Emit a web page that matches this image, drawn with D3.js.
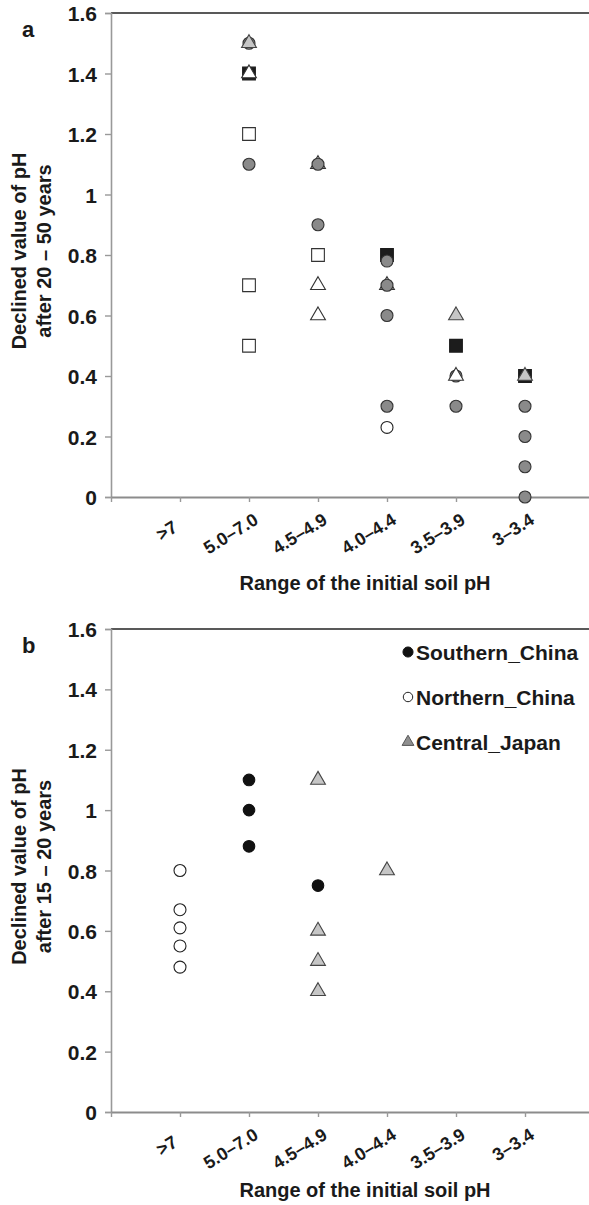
<!DOCTYPE html>
<html>
<head>
<meta charset="utf-8">
<script src="https://cdn.jsdelivr.net/npm/d3@7/dist/d3.min.js"></script>
<style>
  html, body { margin: 0; padding: 0; background: #fff; }
  svg { display: block; }
  text { font-family: "Liberation Sans", Arial, Helvetica, sans-serif; font-weight: bold; fill: #1a1a1a; }
</style>
</head>
<body>
<script>
// ---------- data ----------
const categories = [">7", "5.0–7.0", "4.5–4.9", "4.0–4.4", "3.5–3.9", "3–3.4"];
const yTickValues = [0, 0.2, 0.4, 0.6, 0.8, 1, 1.2, 1.4, 1.6];
const yTickLabels = ["0", "0.2", "0.4", "0.6", "0.8", "1", "1.2", "1.4", "1.6"];

// Panel a (after 20 – 50 years)
const aBlackSquares   = [["5.0–7.0", 1.4], ["4.0–4.4", 0.8], ["3.5–3.9", 0.5], ["3–3.4", 0.4]];
const aWhiteSquares   = [["5.0–7.0", 1.2], ["5.0–7.0", 0.7], ["5.0–7.0", 0.5], ["4.5–4.9", 0.8]];
const aWhiteTrianglesUnder = [["4.5–4.9", 1.1], ["4.0–4.4", 0.7]];
const aGrayCircles    = [["5.0–7.0", 1.5], ["5.0–7.0", 1.1], ["4.5–4.9", 1.1], ["4.5–4.9", 0.9],
                         ["4.0–4.4", 0.78], ["4.0–4.4", 0.7], ["4.0–4.4", 0.6], ["4.0–4.4", 0.3],
                         ["3.5–3.9", 0.4], ["3.5–3.9", 0.3],
                         ["3–3.4", 0.3], ["3–3.4", 0.2], ["3–3.4", 0.1], ["3–3.4", 0]];
const aWhiteCircles   = [["4.0–4.4", 0.23]];
const aWhiteTriangles = [["5.0–7.0", 1.4], ["4.5–4.9", 0.7], ["4.5–4.9", 0.6], ["3.5–3.9", 0.4]];
const aGrayTriangles  = [["5.0–7.0", 1.5], ["3.5–3.9", 0.6], ["3–3.4", 0.4]];

// Panel b (after 15 – 20 years)
const legendNames = ["Southern_China", "Northern_China", "Central_Japan"];
const bSouthernChina = [["5.0–7.0", 1.1], ["5.0–7.0", 1.0], ["5.0–7.0", 0.88], ["4.5–4.9", 0.75]];
const bNorthernChina = [[">7", 0.8], [">7", 0.67], [">7", 0.61], [">7", 0.55], [">7", 0.48]];
const bCentralJapan  = [["4.5–4.9", 1.1], ["4.5–4.9", 0.6], ["4.5–4.9", 0.5], ["4.5–4.9", 0.4], ["4.0–4.4", 0.8]];

// ---------- drawing ----------
const W = 589, H = 1205;
const svg = d3.select("body").append("svg").attr("width", W).attr("height", H);

const left = 111, rightEnd = 594;
const x = d3.scaleLinear().domain([0, 7]).range([left, rightEnd]);
const catX = c => x(categories.indexOf(c) + 1);

const styles = {
  blackSquare:  { shape: d3.symbolSquare,   size: 162, fill: "#1c1c1c", stroke: "#1c1c1c" },
  whiteSquare:  { shape: d3.symbolSquare,   size: 162, fill: "#ffffff", stroke: "#333" },
  grayCircle:   { shape: d3.symbolCircle,   size: 113, fill: "#8a8a8a", stroke: "#333" },
  whiteCircle:  { shape: d3.symbolCircle,   size: 113, fill: "#ffffff", stroke: "#222" },
  blackCircle:  { shape: d3.symbolCircle,   size: 105, fill: "#111", stroke: "#111" },
  whiteTri:     { shape: d3.symbolTriangle, size: 95,  fill: "#ffffff", stroke: "#333" },
  grayTri:      { shape: d3.symbolTriangle, size: 95,  fill: "#c6c6c6", stroke: "#444" }
};

function panel(top, bottom, titleOffset, label, yTitle, seriesList) {
  const y = d3.scaleLinear().domain([0, 1.6]).range([bottom, top]);
  const g = svg.append("g");

  // top border
  g.append("line").attr("x1", left).attr("x2", W).attr("y1", top).attr("y2", top)
    .attr("stroke", "#222").attr("stroke-width", 1.6);

  // y axis
  const ya = g.append("g").attr("transform", `translate(${left},0)`)
    .call(d3.axisLeft(y).tickValues(yTickValues).tickSize(6).tickPadding(8)
      .tickFormat((d, i) => yTickLabels[i]));
  ya.select(".domain").attr("stroke", "#999").attr("stroke-width", 1.6);
  ya.selectAll(".tick line").attr("stroke", "#999").attr("stroke-width", 1.4);
  ya.selectAll(".tick text").attr("font-size", 21).attr("dy", "0.36em").attr("fill", "#1a1a1a");

  // x axis
  const xa = g.append("g").attr("transform", `translate(0,${bottom})`)
    .call(d3.axisBottom(x).tickValues([0, 1, 2, 3, 4, 5, 6]).tickSize(5).tickSizeOuter(0)
      .tickFormat(i => i === 0 ? "" : categories[i - 1]));
  xa.select(".domain").attr("stroke", "#8c8c8c").attr("stroke-width", 2.2);
  xa.selectAll(".tick line").attr("stroke", "#999").attr("stroke-width", 1.4);
  xa.selectAll(".tick text")
    .attr("font-size", 18).attr("fill", "#1a1a1a")
    .attr("text-anchor", "end").attr("dy", 0).attr("y", 0)
    .attr("dx", d => d === 1 ? -14 : 0)
    .attr("transform", "translate(10,26) rotate(-32)");

  // x title
  g.append("text").attr("x", 365).attr("y", bottom + titleOffset).attr("text-anchor", "middle")
    .attr("font-size", 20).text("Range of the initial soil pH");

  // y title (two lines)
  const cy = (top + bottom) / 2 - 4;
  yTitle.forEach((t, i) => {
    g.append("text").attr("transform", `translate(${26 + i * 25},${cy}) rotate(-90)`)
      .attr("text-anchor", "middle").attr("font-size", 20).text(t);
  });

  // panel letter
  g.append("text").attr("x", 22).attr("y", top + 24).attr("font-size", 22).text(label);

  // points
  seriesList.forEach(([data, st]) => {
    const s = styles[st];
    g.append("g").selectAll("path").data(data).join("path")
      .attr("transform", d => `translate(${catX(d[0])},${y(d[1])})`)
      .attr("d", d3.symbol().type(s.shape).size(s.size))
      .attr("fill", s.fill).attr("stroke", s.stroke).attr("stroke-width", 1.1);
  });
  return y;
}

panel(13, 497, 93, "a", ["Declined value of pH", "after 20 – 50 years"], [
  [aBlackSquares, "blackSquare"],
  [aWhiteSquares, "whiteSquare"],
  [aWhiteTrianglesUnder, "whiteTri"],
  [aGrayCircles, "grayCircle"],
  [aWhiteCircles, "whiteCircle"],
  [aWhiteTriangles, "whiteTri"],
  [aGrayTriangles, "grayTri"]
]);

panel(629, 1112, 85, "b", ["Declined value of pH", "after 15 – 20 years"], [
  [bSouthernChina, "blackCircle"],
  [bNorthernChina, "whiteCircle"],
  [bCentralJapan, "grayTri"]
]);

// legend for panel b
const legendStyles = [
  { shape: d3.symbolCircle, size: 80, fill: "#111", stroke: "#111" },
  { shape: d3.symbolCircle, size: 70, fill: "#fff", stroke: "#222" },
  { shape: d3.symbolTriangle, size: 60, fill: "#8f8f8f", stroke: "#555" }
];
const lg = svg.append("g");
legendNames.forEach((name, i) => {
  const ly = 652 + i * 45;
  const s = legendStyles[i];
  lg.append("path").attr("transform", `translate(408,${ly})`)
    .attr("d", d3.symbol().type(s.shape).size(s.size))
    .attr("fill", s.fill).attr("stroke", s.stroke).attr("stroke-width", 1);
  lg.append("text").attr("x", 416).attr("y", ly).attr("dy", "0.36em")
    .attr("font-size", 21).text(name);
});
</script>
</body>
</html>
